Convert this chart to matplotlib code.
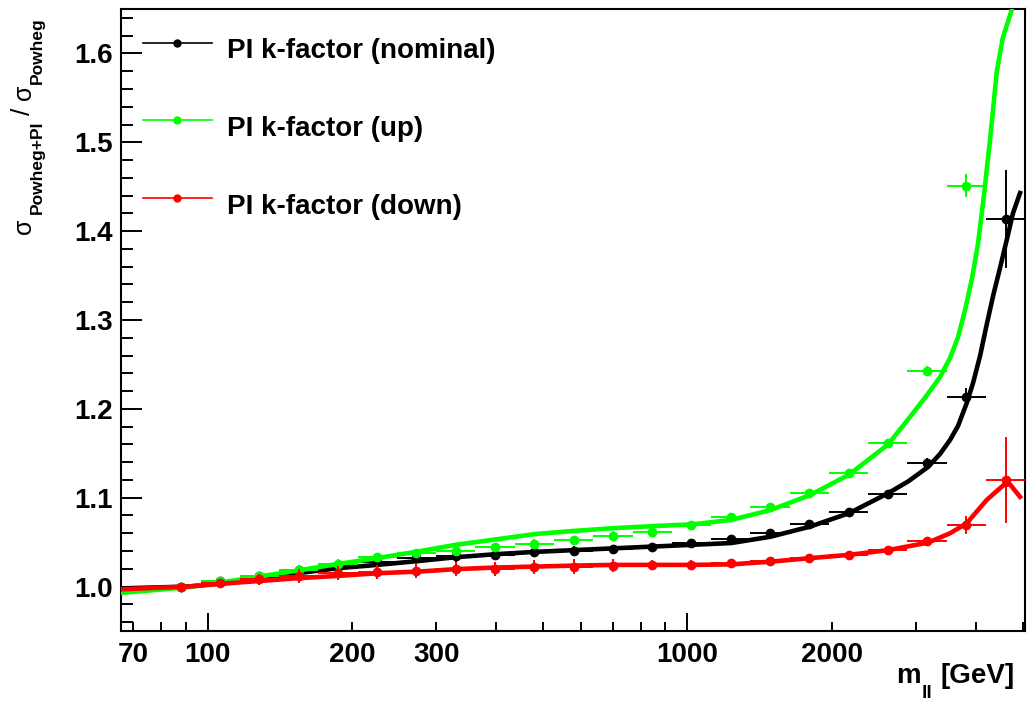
import numpy as np
import matplotlib
matplotlib.use("Agg")
import matplotlib.pyplot as plt
from matplotlib.ticker import FixedLocator, FuncFormatter, MultipleLocator

# binning in m_ll [GeV] (log-spaced)
bin_edges = [66.3, 80.1, 96.7, 116.7, 141.0, 170.2, 205.5, 248.1, 299.6, 361.6,
             436.8, 527.5, 636.8, 769.1, 928.6, 1121, 1353, 1635, 1974, 2383,
             2877, 3474, 4196, 5066]

# ratio sigma(Powheg+PI)/sigma(Powheg), bins 1..22
k_nominal = [1.000, 1.006, 1.012, 1.019, 1.024, 1.028, 1.032, 1.034, 1.036, 1.039, 1.040,
             1.042, 1.044, 1.049, 1.054, 1.060, 1.070, 1.084, 1.104, 1.139, 1.213, 1.414]
err_nominal = [0.003, 0.004, 0.004, 0.005, 0.006, 0.006, 0.006, 0.006, 0.006, 0.006, 0.006,
               0.005, 0.005, 0.004, 0.004, 0.004, 0.004, 0.004, 0.005, 0.006, 0.010, 0.055]
# bins 1..21 (last bin is off scale)
k_up = [1.000, 1.006, 1.012, 1.019, 1.0255, 1.033, 1.0375, 1.040, 1.044, 1.048, 1.052,
        1.057, 1.061, 1.069, 1.078, 1.089, 1.105, 1.128, 1.162, 1.243, 1.451]
err_up = [0.003, 0.004, 0.004, 0.005, 0.005, 0.005, 0.005, 0.005, 0.005, 0.005, 0.005,
          0.005, 0.004, 0.004, 0.004, 0.004, 0.004, 0.004, 0.004, 0.005, 0.013]
k_down = [1.000, 1.004, 1.008, 1.012, 1.015, 1.016, 1.018, 1.0195, 1.020, 1.022, 1.0225,
          1.0236, 1.0244, 1.0244, 1.026, 1.029, 1.032, 1.036, 1.041, 1.051, 1.069, 1.120]
err_down = [0.003, 0.005, 0.006, 0.008, 0.008, 0.008, 0.008, 0.008, 0.008, 0.008, 0.008,
            0.007, 0.006, 0.005, 0.004, 0.004, 0.004, 0.004, 0.004, 0.004, 0.010, 0.048]

# fitted k-factor curves
fit_x_nominal = [66.5, 91, 115.5, 154, 187, 226, 278, 329, 398, 480, 579, 701, 846, 1024,
                 1235, 1489, 1804, 2175, 2623, 2887, 3177, 3366, 3531, 3669, 3826, 3943,
                 4078, 4217, 4346, 4488, 4635, 4778, 4941]
fit_nominal = [0.998, 1.000, 1.0056, 1.015, 1.0207, 1.0244, 1.029, 1.033, 1.0364, 1.039,
               1.041, 1.043, 1.045, 1.047, 1.049, 1.056, 1.0675, 1.0826, 1.1051, 1.1183,
               1.1346, 1.1493, 1.1650, 1.1808, 1.2066, 1.2291, 1.2595, 1.2966, 1.3281,
               1.3585, 1.3900, 1.4204, 1.4429]
fit_x_up = [66.5, 91, 115.5, 154, 187, 226, 278, 329, 398, 480, 579, 701, 846, 1024,
            1235, 1489, 1804, 2175, 2623, 2958, 3162, 3366, 3531, 3669, 3795, 3925,
            4040, 4144, 4278, 4418, 4547, 4760]
fit_up = [0.993, 0.9993, 1.0075, 1.018, 1.0255, 1.032, 1.040, 1.047, 1.053, 1.059, 1.0626,
          1.0657, 1.068, 1.070, 1.075, 1.086, 1.103, 1.126, 1.160, 1.1954, 1.2156, 1.2359,
          1.2573, 1.2807, 1.3112, 1.3472, 1.3865, 1.4349, 1.5024, 1.5790, 1.6172, 1.651]
fit_x_down = [66.5, 91, 115.5, 154, 187, 226, 278, 329, 398, 480, 579, 701, 846, 1024,
              1235, 1489, 1804, 2175, 2623, 3178, 3531, 3825, 4211, 4560, 4709, 4940]
fit_down = [0.997, 1.000, 1.0045, 1.0094, 1.012, 1.015, 1.017, 1.0196, 1.0214, 1.0225,
            1.0236, 1.0244, 1.0244, 1.0244, 1.025, 1.028, 1.032, 1.0357, 1.041, 1.0495,
            1.060, 1.0713, 1.0975, 1.114, 1.115, 1.101]

legend_labels = ["PI k-factor (nominal)", "PI k-factor (up)", "PI k-factor (down)"]
colors = ["#000000", "#00ff00", "#ff0000"]

plt.rcParams["font.family"] = ["Liberation Sans", "DejaVu Sans"]
plt.rcParams["font.weight"] = "bold"

W, H = 1027, 702
fig = plt.figure(figsize=(W / 100, H / 100), dpi=100)
ax = fig.add_axes([121 / W, 1 - 631 / H, 904 / W, 622 / H])

edges = np.array(bin_edges)
centers = np.sqrt(edges[:-1] * edges[1:])

series = [
    (k_nominal, err_nominal, fit_x_nominal, fit_nominal),
    (k_up, err_up, fit_x_up, fit_up),
    (k_down, err_down, fit_x_down, fit_down),
]
for i, (vals, errs, fx, fy) in enumerate(series):
    n = len(vals)
    c = centers[1:1 + n]
    lo = c - edges[1:1 + n]
    hi = edges[2:2 + n] - c
    ax.errorbar(c, vals, xerr=[lo, hi], yerr=errs, fmt="o", color=colors[i],
                ms=6, elinewidth=1.4, capsize=0, zorder=2 + 2 * i)
    ax.plot(fx, fy, color=colors[i], lw=3.3, solid_joinstyle="round",
            zorder=3 + 2 * i)

ax.set_xscale("log")
ax.set_xlim(66, 5060)
ax.set_ylim(0.95, 1.65)

labelled = {70, 200, 300, 2000}
ax.xaxis.set_major_locator(FixedLocator([100, 1000]))
ax.xaxis.set_minor_locator(FixedLocator([70, 80, 90, 200, 300, 400, 500, 600, 700, 800, 900,
                                         2000, 3000, 4000, 5000]))
ax.xaxis.set_major_formatter(FuncFormatter(lambda v, p: f"{v:g}"))
ax.xaxis.set_minor_formatter(FuncFormatter(
    lambda v, p: f"{v:g}" if round(v) in labelled else ""))
ax.yaxis.set_major_locator(MultipleLocator(0.1))
ax.yaxis.set_minor_locator(MultipleLocator(0.02))
ax.yaxis.set_major_formatter(FuncFormatter(lambda v, p: f"{v:.1f}"))

ax.tick_params(axis="x", which="both", direction="in", width=1.4, labelsize=20, pad=8,
               top=False)
ax.tick_params(axis="x", which="major", length=13)
ax.tick_params(axis="x", which="minor", length=6.5)
ax.tick_params(axis="y", which="both", direction="in", width=1.4, labelsize=20, pad=6,
               right=False)
ax.tick_params(axis="y", which="major", length=15)
ax.tick_params(axis="y", which="minor", length=8.5)
for sp in ax.spines.values():
    sp.set_linewidth(1.5)


def fpx(x, y):
    return x / W, 1 - y / H


# legend: short line with a dot, label to the right
for label, col, by in zip(legend_labels, colors, [58.3, 136.0, 213.7]):
    ly = by - 15.6
    x0, y0 = fig.transFigure.transform(fpx(143, ly))
    x1, _ = fig.transFigure.transform(fpx(212, ly))
    xm, _ = fig.transFigure.transform(fpx(177, ly))
    ax.plot([x0, x1], [y0, y0], color=col, lw=1.2, transform=None, clip_on=False)
    ax.plot([xm], [y0], "o", color=col, ms=5, transform=None, clip_on=False)
    fig.text(*fpx(227, by), label, fontsize=20, va="baseline", ha="left")

# y title: sigma_{Powheg+PI}/sigma_{Powheg}
ykw = dict(rotation=90, rotation_mode="anchor", ha="left", va="baseline")
fig.text(*fpx(30.5, 234), "σ", fontsize=18, fontweight="normal", **ykw)
fig.text(*fpx(42, 214), "Powheg+PI", fontsize=12.5, **ykw)
fig.text(*fpx(30.5, 115), "/", fontsize=19, fontweight="normal", **ykw)
fig.text(*fpx(30.5, 100), "σ", fontsize=18, fontweight="normal", **ykw)
fig.text(*fpx(42, 84), "Powheg", fontsize=12.5, **ykw)

# x title: m_ll [GeV]
fig.text(*fpx(896, 683), "m", fontsize=20, va="baseline", ha="left")
fig.text(*fpx(922, 698), "ll", fontsize=14, va="baseline", ha="left")
fig.text(*fpx(941, 683), "[GeV]", fontsize=20, va="baseline", ha="left")

fig.savefig("out.png", dpi=100)
